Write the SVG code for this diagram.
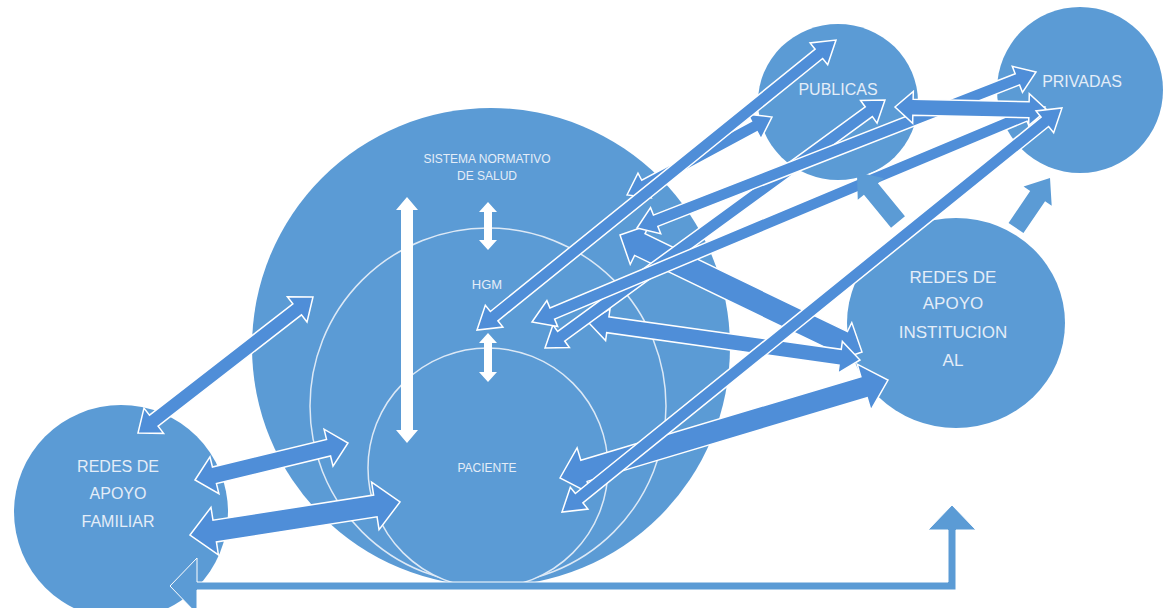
<svg xmlns="http://www.w3.org/2000/svg" width="1163" height="608" viewBox="0 0 1163 608">
<style>
.node{fill:#5b9bd5}
.ring{fill:#5b9bd5;stroke:#dde9f6;stroke-width:1.5}
.lbl{fill:#e4edf8;font-family:"Liberation Sans",Arial,sans-serif;text-anchor:middle}
.big{font-size:16px}
.sm{font-size:12px}
.arr{fill:#4f8ed8;stroke:#ffffff;stroke-width:1.5;stroke-linejoin:miter}
.wht{fill:#ffffff}
.plain{fill:#5b9bd5}
</style>
<rect width="1163" height="608" fill="#ffffff"/>

<g id="sistema">
<circle class="node" cx="491" cy="347" r="239"/>
<text class="lbl sm" x="487" y="163">SISTEMA NORMATIVO</text>
<text class="lbl sm" x="487" y="180">DE SALUD</text>
</g>
<g id="hgm">
<circle class="ring" cx="488" cy="406" r="178"/>
<text class="lbl" x="487" y="289" font-size="13">HGM</text>
</g>
<g id="paciente">
<circle class="ring" cx="488" cy="468" r="120"/>
<text class="lbl sm" x="487" y="472">PACIENTE</text>
</g>
<g id="familiar">
<circle class="node" cx="121" cy="512" r="107"/>
<text class="lbl big" x="118" y="472">REDES DE</text>
<text class="lbl big" x="118" y="499">APOYO</text>
<text class="lbl big" x="118" y="527">FAMILIAR</text>
</g>
<g id="publicas">
<ellipse class="node" cx="838" cy="102" rx="80" ry="78"/>
<text class="lbl big" x="838" y="95">PUBLICAS</text>
</g>
<g id="privadas">
<circle class="node" cx="1080" cy="90" r="83"/>
<text class="lbl big" x="1082" y="87">PRIVADAS</text>
</g>
<g id="institucional">
<ellipse class="node" cx="956" cy="323" rx="109" ry="105"/>
<text class="lbl" font-size="17" x="953" y="283">REDES DE</text>
<text class="lbl" font-size="17" x="953" y="309">APOYO</text>
<text class="lbl" font-size="17" x="953" y="338">INSTITUCION</text>
<text class="lbl" font-size="17" x="953" y="366">AL</text>
</g>

<g id="connectors">
<!-- white internal arrows -->
<path class="wht" d="M407,197 L418,210 L413,210 L413,430 L418,430 L407,443 L396,430 L401,430 L401,210 L396,210 Z"/>
<path class="wht" d="M488,202 L497,212 L492,212 L492,240 L497,240 L488,250 L479,240 L484,240 L484,212 L479,212 Z"/>
<path class="wht" d="M488,333 L497,343 L492,343 L492,372 L497,372 L488,382 L479,372 L484,372 L484,343 L479,343 Z"/>

<!-- familiar arrows -->
<path class="arr" transform="translate(138,433) rotate(-37.85)" d="M0,0 L20,-16 L20,-7 L201.6,-7 L201.6,-16 L221.6,0 L201.6,16 L201.6,7 L20,7 L20,16 Z"/>
<path class="arr" transform="translate(195,480) rotate(-13.6)" d="M0,0 L20,-19 L20,-8.5 L137.4,-8.5 L137.4,-19 L157.4,0 L137.4,19 L137.4,8.5 L20,8.5 L20,19 Z"/>
<path class="arr" transform="translate(190,535) rotate(-8.93)" d="M0,0 L25,-24 L25,-11 L187.6,-11 L187.6,-24 L212.6,0 L187.6,24 L187.6,11 L25,11 L25,24 Z"/>

<!-- institucional arrows -->
<path class="arr" transform="translate(620,235) rotate(25.8)" d="M0,0 L22,-22 L22,-12 L246.8,-12 L246.8,-22 L268.8,0 L246.8,22 L246.8,12 L22,12 L22,22 Z"/>
<path class="arr" transform="translate(588,322) rotate(7.95)" d="M0,0 L20,-16 L20,-8 L254.6,-8 L254.6,-16 L274.6,0 L254.6,16 L254.6,8 L20,8 L20,16 Z"/>
<path class="arr" transform="translate(560,478) rotate(-16.63)" d="M0,0 L25,-24 L25,-11 L317.3,-11 L317.3,-24 L342.3,0 L317.3,24 L317.3,11 L25,11 L25,24 Z"/>

<!-- long arrows to publicas / privadas -->
<path class="arr" transform="translate(545,348) rotate(-36.11)" d="M0,0 L20,-14 L20,-6 L400.8,-6 L400.8,-14 L420.8,0 L400.8,14 L400.8,6 L20,6 L20,14 Z"/>
<path class="arr" transform="translate(532,322) rotate(-22.73)" d="M0,0 L22,-14 L22,-6 L534.2,-6 L534.2,-14 L556.2,0 L534.2,14 L534.2,6 L22,6 L22,14 Z"/>
<path class="arr" transform="translate(637,228) rotate(-21.35)" d="M0,0 L20,-14 L20,-6 L408.4,-6 L408.4,-14 L428.4,0 L408.4,14 L408.4,6 L20,6 L20,14 Z"/>
<path class="arr" transform="translate(627,195) rotate(-28.27)" d="M0,0 L20,-14 L20,-6 L144.6,-6 L144.6,-14 L164.6,0 L144.6,14 L144.6,6 L20,6 L20,14 Z"/>
<path class="arr" transform="translate(895,107) rotate(1.13)" d="M0,0 L18,-16 L18,-8 L134,-8 L134,-16 L152,0 L134,16 L134,8 L18,8 L18,16 Z"/>
<path class="arr" transform="translate(477,330) rotate(-38.93)" d="M0,0 L22,-14 L22,-6 L439.5,-6 L439.5,-14 L461.5,0 L439.5,14 L439.5,6 L22,6 L22,14 Z"/>
<path class="arr" transform="translate(562,512) rotate(-38.94)" d="M0,0 L22,-14 L22,-6 L620.8,-6 L620.8,-14 L642.8,0 L620.8,14 L620.8,6 L22,6 L22,14 Z"/>

<!-- short arrows from institucional -->
<path class="plain" transform="translate(898,222) rotate(-129.4)" d="M0,-9 L42.7,-9 L42.7,-17 L64.7,0 L42.7,17 L42.7,9 L0,9 Z"/>
<path class="plain" transform="translate(1016,228) rotate(-55.8)" d="M0,-9 L38.5,-9 L38.5,-17 L60.5,0 L38.5,17 L38.5,9 L0,9 Z"/>

<!-- bottom return connector -->
<path class="plain" stroke="#ffffff" stroke-width="1" d="M170,586 L197,558 L197,582 L948,582 L948,530 L928,530 L952,505 L976,530 L956,530 L956,590 L197,590 L197,614 Z"/>
</g>
</svg>
